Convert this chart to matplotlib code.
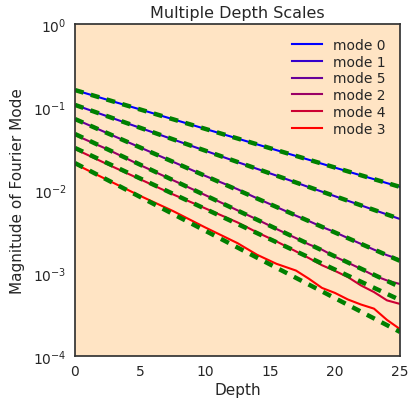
import matplotlib
matplotlib.use('Agg')
import matplotlib.pyplot as plt

# depth samples shared by all measured modes
depth = [0, 2.5, 5, 7.5, 10, 12.5, 14, 15.5, 17, 18, 19, 20, 21, 22, 23, 24, 25]

mode_0 = [0.160, 0.122, 0.0936, 0.0715, 0.0546, 0.0417, 0.0355, 0.0302, 0.0257,
          0.0231, 0.0207, 0.0186, 0.0167, 0.0150, 0.0135, 0.0121, 0.0109]
mode_1 = [0.106, 0.0771, 0.0561, 0.0409, 0.0298, 0.0217, 0.0180, 0.0149, 0.0123,
          0.0108, 0.00955, 0.00841, 0.00741, 0.00653, 0.00575, 0.00507, 0.00447]
mode_5 = [0.0716, 0.0483, 0.0326, 0.0220, 0.01483, 0.01023, 0.00794, 0.00624, 0.00490,
          0.00422, 0.00359, 0.00310, 0.00263, 0.00224, 0.00191, 0.00164, 0.00145]
mode_2 = [0.0460, 0.0309, 0.0200, 0.0132, 0.00871, 0.00569, 0.00442, 0.00339, 0.00263,
          0.00221, 0.00191, 0.00157, 0.00133, 0.00112, 0.000933, 0.000813, 0.000736]
mode_4 = [0.0312, 0.0204, 0.0135, 0.00891, 0.00603, 0.00407, 0.00309, 0.00240, 0.00182,
          0.00151, 0.00124, 0.00106, 0.000891, 0.000708, 0.000589, 0.000468, 0.000424]
mode_3 = [0.0206, 0.0132, 0.00851, 0.00562, 0.00355, 0.00229, 0.00166, 0.00129, 0.00107,
          0.000851, 0.000661, 0.000575, 0.000479, 0.000417, 0.000372, 0.000272, 0.000211]

mode_labels = ['mode 0', 'mode 1', 'mode 5', 'mode 2', 'mode 4', 'mode 3']
mode_values = [mode_0, mode_1, mode_5, mode_2, mode_4, mode_3]

# exponential fits: value at the surface and at the bottom of the range
fit_depth = [0, 25]
fit_top = [0.160, 0.106, 0.0716, 0.0473, 0.0321, 0.0211]
fit_bottom = [0.0109, 0.00447, 0.0014, 0.000678, 0.000473, 0.000195]

line_colors = [(0.0, 0, 1.0), (0.2, 0, 0.8), (0.4, 0, 0.6),
               (0.6, 0, 0.4), (0.8, 0, 0.2), (1.0, 0, 0.0)]

plt.rcParams['font.family'] = 'DejaVu Sans'
plt.rcParams['text.color'] = '.15'
plt.rcParams['axes.labelcolor'] = '.15'
plt.rcParams['xtick.color'] = '.15'
plt.rcParams['ytick.color'] = '.15'

fig = plt.figure(figsize=(4.10, 4.02), dpi=100)
ax = fig.add_axes([75 / 410, 45 / 402, 325 / 410, 332 / 402])
ax.set_facecolor('bisque')

for values, label, color in zip(mode_values, mode_labels, line_colors):
    ax.plot(depth, values, color=color, lw=1.5, label=label)

for top, bottom in zip(fit_top, fit_bottom):
    ax.plot(fit_depth, [top, bottom], color='green', lw=3.2,
            dashes=(2.0, 1.7))

ax.set_yscale('log')
ax.set_xlim(0, 25)
ax.set_ylim(1e-4, 1)
ax.set_xticks([0, 5, 10, 15, 20, 25])
ax.tick_params(axis='both', which='both', length=0, labelsize=10, pad=6)
ax.minorticks_off()
ax.set_yticks([1e-4, 1e-3, 1e-2, 1e-1, 1])

for spine in ax.spines.values():
    spine.set_color('.2')
    spine.set_linewidth(1.25)

ax.set_title('Multiple Depth Scales', fontsize=11.5, pad=5)
ax.set_xlabel('Depth', fontsize=11, labelpad=3)
ax.set_ylabel('Magnitude of Fourier Mode', fontsize=11, labelpad=6)
ax.legend(loc='upper right', frameon=False, fontsize=10, handlelength=2.2,
          labelspacing=0.2, borderaxespad=0.6)

fig.savefig('out.png', dpi=100)
